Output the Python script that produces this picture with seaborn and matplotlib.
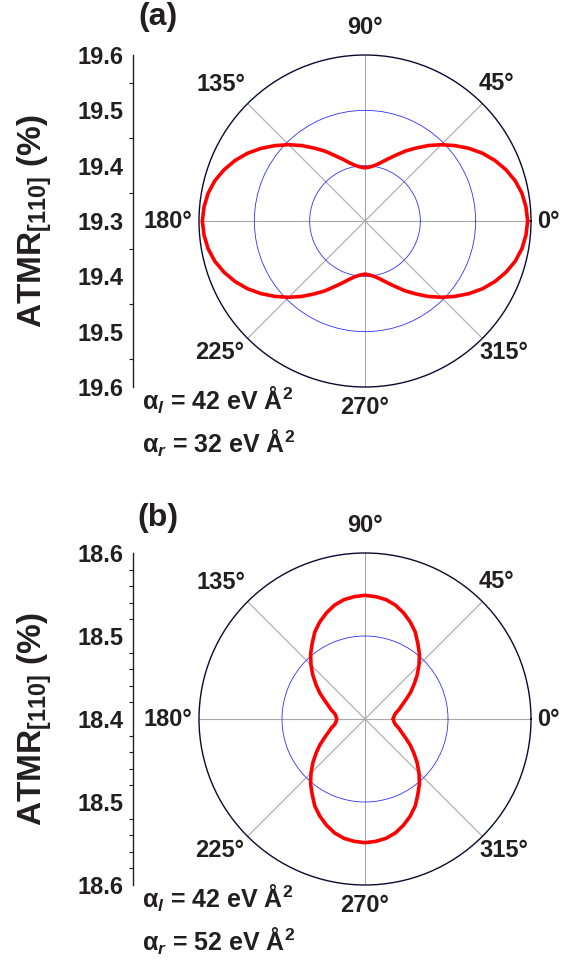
import numpy as np
import matplotlib
matplotlib.use("Agg")
import matplotlib.pyplot as plt
from matplotlib.ticker import MultipleLocator
import seaborn as sns

sns.set_theme(style="white")
plt.rcParams['font.family'] = ['Liberation Sans', 'DejaVu Sans']
plt.rcParams['font.weight'] = 'bold'
plt.rcParams['mathtext.fontset'] = 'custom'
plt.rcParams['mathtext.rm'] = 'Liberation Sans:bold'
plt.rcParams['mathtext.it'] = 'Liberation Sans:bold:italic'
plt.rcParams['mathtext.bf'] = 'Liberation Sans:bold'

TXT = '#231f20'

# ---------------- data ----------------
angle_deg = list(range(0, 361, 5))

# panel (a): ATMR_[110] (%) vs angle, alpha_l = 42, alpha_r = 32
atmr_a = [19.594, 19.592, 19.588, 19.581, 19.571, 19.559, 19.545, 19.529, 19.512, 19.495,
          19.478, 19.461, 19.446, 19.431, 19.419, 19.409, 19.402, 19.398, 19.396,
          19.398, 19.402, 19.409, 19.419, 19.431, 19.446, 19.461, 19.478,
          19.495, 19.512, 19.529, 19.545, 19.559, 19.571, 19.581, 19.588, 19.592,
          19.594, 19.592, 19.588, 19.581, 19.571, 19.559, 19.545, 19.529, 19.512, 19.495,
          19.478, 19.461, 19.446, 19.431, 19.419, 19.409, 19.402, 19.398, 19.396,
          19.398, 19.402, 19.409, 19.419, 19.431, 19.446, 19.461, 19.478,
          19.495, 19.512, 19.529, 19.545, 19.559, 19.571, 19.581, 19.588, 19.592, 19.594]

# panel (b): alpha_l = 42, alpha_r = 52
atmr_b = [18.434, 18.435, 18.437, 18.442, 18.447, 18.454, 18.463, 18.472, 18.482, 18.492,
          18.502, 18.511, 18.521, 18.529, 18.536, 18.542, 18.546, 18.548, 18.549,
          18.548, 18.546, 18.542, 18.536, 18.529, 18.521, 18.511, 18.502,
          18.492, 18.482, 18.472, 18.463, 18.454, 18.447, 18.442, 18.437, 18.435,
          18.434, 18.435, 18.437, 18.442, 18.447, 18.454, 18.463, 18.472, 18.482, 18.492,
          18.502, 18.511, 18.521, 18.529, 18.536, 18.542, 18.546, 18.548, 18.549,
          18.548, 18.546, 18.542, 18.536, 18.529, 18.521, 18.511, 18.502,
          18.492, 18.482, 18.472, 18.463, 18.454, 18.447, 18.442, 18.437, 18.435, 18.434]

theta_ticks = [0, 45, 90, 135, 180, 225, 270, 315]
theta_labels = ['0°', '45°', '90°', '135°', '180°', '225°', '270°', '315°']
# label offsets from the rim, in pixels (x right, y up)
label_off = [(17, 0), (14, 20), (0, 28), (-27, 19), (-31, 0), (-28, -14), (0, -20), (21, -14)]

rlim_a = (19.3, 19.6)
rgrid_a = [19.4, 19.5]
ytick_a = ['19.6', '19.5', '19.4', '19.3', '19.4', '19.5', '19.6']

rlim_b = (18.4, 18.6)
rgrid_b = [18.5]
ytick_b = ['18.6', '18.5', '18.4', '18.5', '18.6']

params_a = [r'α$_{l}$ = 42 eV Å$^{2}$', r'α$_{r}$ = 32 eV Å$^{2}$']
params_b = [r'α$_{l}$ = 42 eV Å$^{2}$', r'α$_{r}$ = 52 eV Å$^{2}$']

# ---------------- figure ----------------
W, H = 567, 973
fig = plt.figure(figsize=(W / 100, H / 100), dpi=100)


def px_rect(x0, y0, x1, y1):
    return [x0 / W, 1 - y1 / H, (x1 - x0) / W, (y1 - y0) / H]


def panel(cy, vals, rlim, rgrid, yticklabels, minor_step, params, tag, ptext_y):
    R = 166
    cx = 365
    ax = fig.add_axes(px_rect(cx - R, cy - R, cx + R, cy + R), projection='polar')
    th = np.deg2rad(angle_deg)
    sns.lineplot(x=th, y=vals, ax=ax, sort=False, color='#ff0000', lw=2.6, zorder=5)
    ax.set_xlabel('')
    ax.set_ylabel('')
    ax.set_ylim(*rlim)
    ax.set_rgrids(rgrid, labels=[''] * len(rgrid))
    ax.yaxis.grid(True, color='#3030ff', lw=0.6)
    ax.set_xticks(np.deg2rad(theta_ticks))
    ax.set_xticklabels([''] * len(theta_ticks))
    ax.set_xticks(np.deg2rad(np.arange(22.5, 360, 45)), minor=True)
    ax.xaxis.grid(True, which='major', color='#a8a8a8', lw=0.8)
    ax.tick_params(axis='x', which='both', direction='in', length=4, width=0.8,
                   color='#101030')
    ax.spines['polar'].set_color('#0a0a30')
    ax.spines['polar'].set_linewidth(1.0)
    ax.set_facecolor('white')
    for a, lab, off in zip(theta_ticks, theta_labels, label_off):
        ax.annotate(lab, xy=(np.deg2rad(a), rlim[1]), xycoords='data',
                    xytext=off, textcoords='offset pixels', ha='center', va='center',
                    fontsize=17, fontweight='bold', color=TXT, annotation_clip=False)

    # linear axis on the left
    half = rlim[1] - rlim[0]
    lax = fig.add_axes(px_rect(133, cy - R, 140, cy + R))
    lax.set_ylim(-half, half)
    nmaj = len(yticklabels)
    lax.set_yticks(np.linspace(half, -half, nmaj))
    lax.set_yticklabels(yticklabels, fontsize=17, fontweight='bold', color=TXT)
    lax.yaxis.set_minor_locator(MultipleLocator(minor_step))
    lax.set_xticks([])
    for s in ['top', 'right', 'bottom']:
        lax.spines[s].set_visible(False)
    lax.spines['left'].set_color(TXT)
    lax.spines['left'].set_linewidth(1.0)
    lax.tick_params(axis='y', which='major', direction='out', length=5, width=1, color=TXT, pad=2)
    lax.tick_params(axis='y', which='minor', direction='out', length=3, width=0.8, color=TXT, left=True)
    lax.set_facecolor('none')

    fig.text(35 / W, 1 - cy / H, r'ATMR$_{[110]}$ (%)', rotation=90, ha='center', va='center',
             fontsize=24, fontweight='bold', color=TXT)
    fig.text(158 / W, 1 - ptext_y / H, tag, ha='center', va='center', fontsize=23,
             fontweight='bold', color=TXT)
    fig.text(142 / W, 1 - (cy + R + 13) / H, params[0], ha='left', va='center', fontsize=18,
             fontweight='bold', color=TXT)
    fig.text(142 / W, 1 - (cy + R + 56) / H, params[1], ha='left', va='center', fontsize=18,
             fontweight='bold', color=TXT)


panel(221, atmr_a, rlim_a, rgrid_a, ytick_a, 0.05, params_a, '(a)', 17)
panel(719, atmr_b, rlim_b, rgrid_b, ytick_b, 0.02, params_b, '(b)', 518)

fig.savefig('out.png', dpi=100, facecolor='white')
